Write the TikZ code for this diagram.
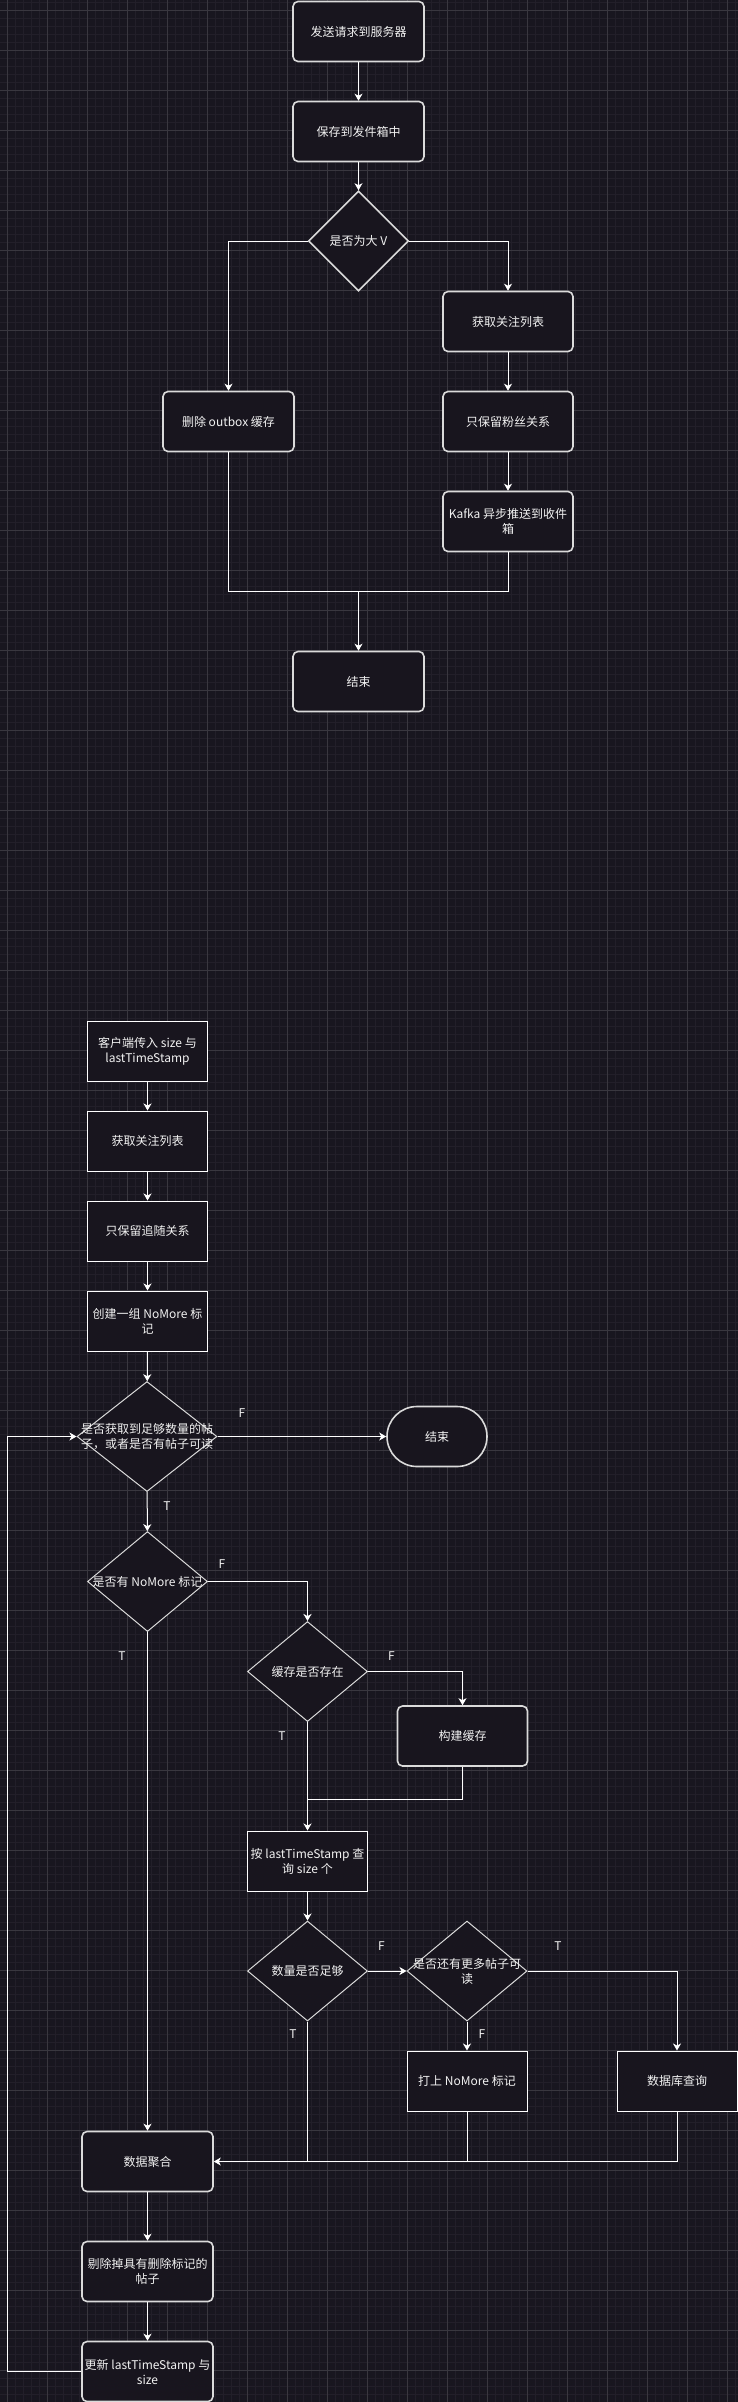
\documentclass[tikz,border=0pt]{standalone}
\usepackage{fontspec}
\usepackage{tikz}
\usetikzlibrary{shapes.geometric, arrows.meta, positioning}

\newfontfamily\cjk{Noto Sans CJK SC}
\definecolor{canvas}{HTML}{18161F}
\definecolor{gridminor}{HTML}{221F29}
\definecolor{gridmajor}{HTML}{39373F}
\definecolor{boxfill}{HTML}{18151E}
\definecolor{boxline}{HTML}{DADADA}
\definecolor{ink}{HTML}{F2F2F2}

\begin{document}
\begin{tikzpicture}[
    x=1pt, y=1pt,
    node distance=90pt,
    >={Stealth[length=7pt, width=8pt, inset=2pt]},
    every node/.style={font=\cjk\fontsize{12}{15}\selectfont, text=ink, align=center},
    roundbox/.style={rectangle, rounded corners=5pt, draw=boxline, line width=1.6pt, fill=boxfill, minimum width=130pt, minimum height=60pt, inner sep=1pt},
    plainbox/.style={rectangle, draw=white, line width=1pt, fill=boxfill, minimum width=120pt, minimum height=60pt, inner sep=1pt},
    decision/.style={diamond, draw=boxline, line width=1pt, fill=boxfill, inner sep=0pt},
    flow/.style={draw=white, line width=1pt}
]

% canvas and grid
\useasboundingbox (0,0) rectangle (738,-2402);
\fill[canvas] (0,0) rectangle (738,-2402);
\begin{scope}
\clip (0,0) rectangle (738,-2402);
\draw[gridminor, line width=0.7pt, step=8, shift={(7.3,-10.7)}] (-16,16) grid (740,-2400);
\draw[gridmajor, line width=0.7pt, step=40, shift={(7.3,-10.7)}] (-40,40) grid (760,-2400);
\end{scope}

% publish flow
\node[roundbox, minimum width=131pt] (send) at (358.5,-31.5) {发送请求到服务器};
\node[roundbox, minimum width=131pt, below of=send, node distance=100pt] (outbox) {保存到发件箱中};
\node[decision, line width=1.6pt, minimum width=100pt, minimum height=100pt, label=center:{是否为大 V}] (bigv) at (358.5,-241) {};
\node[roundbox] (getfollow) at (508,-321.5) {获取关注列表};
\node[roundbox, below of=getfollow, node distance=100pt] (keepfans) {只保留粉丝关系};
\node[roundbox, below of=keepfans, node distance=100pt] (kafka) {Kafka 异步推送到收件\\箱};
\node[roundbox, minimum width=131pt] (dropcache) at (228.5,-421.5) {删除 outbox 缓存};
\node[roundbox, minimum width=131pt] (done) at (358.5,-681.5) {结束};
\coordinate (merge) at (358.5,-591);

\draw[flow, ->] (send) -- (outbox);
\draw[flow, ->] (outbox) -- (bigv);
\draw[flow, ->] (bigv.west) -| (dropcache);
\draw[flow, ->] (bigv.east) -| (getfollow);
\draw[flow, ->] (getfollow) -- (keepfans);
\draw[flow, ->] (keepfans) -- (kafka);
\draw[flow] (dropcache) |- (merge);
\draw[flow] (kafka) |- (merge);
\draw[flow, ->] (merge) -- (done);

% feed flow
\node[plainbox] (ask) at (147.5,-1051) {客户端传入 size 与\\lastTimeStamp};
\node[plainbox, below of=ask] (getlist) {获取关注列表};
\node[plainbox, below of=getlist] (keepfollow) {只保留追随关系};
\node[plainbox, below of=keepfollow] (nomore) {创建一组 NoMore 标\\记};
\node[decision, minimum width=140pt, minimum height=110pt, label=center:{是否获取到足够数量的帖\\子，或者是否有帖子可读}] (enough) at (147,-1436.5) {};
\node[rectangle, rounded corners=30pt, draw=boxline, line width=1.6pt, fill=boxfill, minimum width=100pt, minimum height=60pt] (stop) at (437,-1436.5) {结束};
\node[decision, minimum width=120pt, minimum height=100pt, label=center:{是否有 NoMore 标记}] (hasflag) at (147.5,-1581.5) {};
\node[decision, minimum width=120pt, minimum height=100pt, label=center:{缓存是否存在}] (cached) at (307.5,-1671.5) {};
\node[roundbox] (build) at (462.5,-1736) {构建缓存};
\node[plainbox] (query) at (307.5,-1861) {按 lastTimeStamp 查\\询 size 个};
\node[decision, minimum width=120pt, minimum height=100pt, label=center:{数量是否足够}] (count) at (307.5,-1971) {};
\node[decision, minimum width=120pt, minimum height=100pt, label=center:{是否还有更多帖子可\\读}] (more) at (467,-1971) {};
\node[plainbox] (setflag) at (467,-2081) {打上 NoMore 标记};
\node[plainbox] (dbquery) at (677,-2081) {数据库查询};
\node[roundbox, minimum width=131pt] (collect) at (147.5,-2161.5) {数据聚合};
\node[roundbox, minimum width=131pt, below of=collect, node distance=110pt] (purge) {剔除掉具有删除标记的\\帖子};
\node[roundbox, minimum width=131pt, below of=purge, node distance=100pt] (update) {更新 lastTimeStamp 与\\size};
\coordinate (cachejoin) at (307.5,-1799);
\coordinate (loop) at (7.5,-2371.5);

% branch letters
\node (fEnough) at (242,-1413) {F};
\node (tEnough) at (167,-1506) {T};
\node (fFlag) at (222,-1564) {F};
\node (tFlag) at (122,-1656) {T};
\node (fCached) at (391.5,-1656) {F};
\node (tCached) at (282,-1736) {T};
\node (fCount) at (381.5,-1946) {F};
\node (tMore) at (558,-1946) {T};
\node (fMore) at (482,-2034) {F};
\node (tCount) at (293,-2034) {T};

\draw[flow, ->] (ask) -- (getlist);
\draw[flow, ->] (getlist) -- (keepfollow);
\draw[flow, ->] (keepfollow) -- (nomore);
\draw[flow, ->] (nomore) -- (enough);
\draw[flow, ->] (enough) -- (stop);
\draw[flow, ->] (enough) -- (hasflag);
\draw[flow, ->] (hasflag.east) -| (cached);
\draw[flow, ->] (hasflag) -- (collect);
\draw[flow, ->] (cached.east) -| (build);
\draw[flow, ->] (cached) -- (query);
\draw[flow] (build) |- (cachejoin);
\draw[flow, ->] (query) -- (count);
\draw[flow, ->] (count) -- (more);
\draw[flow, ->] (more.east) -| (dbquery);
\draw[flow, ->] (more) -- (setflag);
\draw[flow] (count) -- (count |- collect);
\draw[flow] (setflag) -- (setflag |- collect);
\draw[flow, ->] (dbquery) |- (collect);
\draw[flow, ->] (collect) -- (purge);
\draw[flow, ->] (purge) -- (update);
\draw[flow, ->] (update.west) -- (loop) |- (enough.west);

\end{tikzpicture}
\end{document}
